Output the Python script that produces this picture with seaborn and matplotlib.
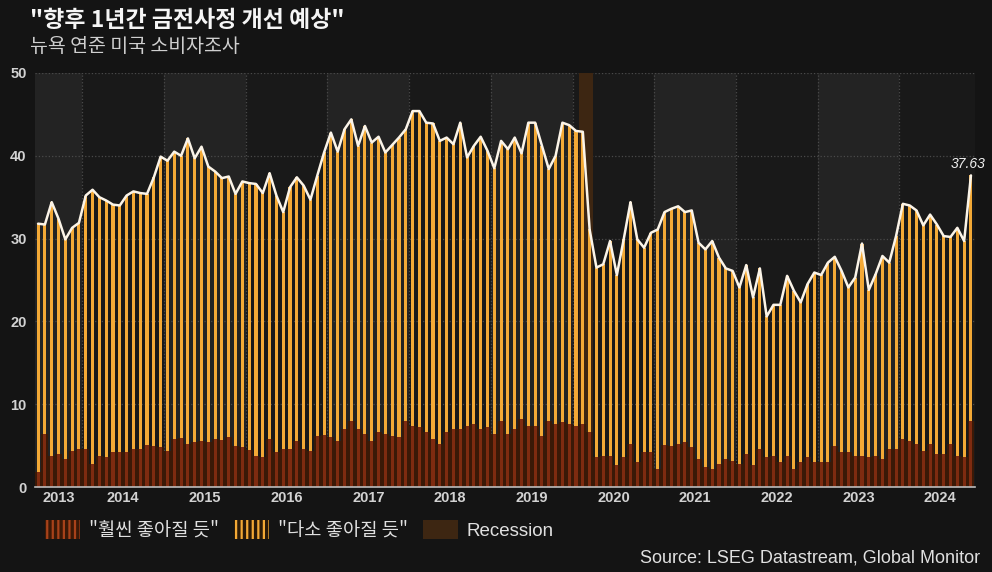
import numpy as np
import pandas as pd
import seaborn as sns
import matplotlib.pyplot as plt
from matplotlib import font_manager
from matplotlib.patches import Patch

# NY Fed SCE: share expecting to be better off in 12 months (monthly, from Jun 2013)
start_month = '2013-06'
much_better = [
    1.8, 6.4, 3.8, 4.0, 3.4, 4.4, 4.6, 4.6, 2.8, 3.8,
    3.6, 4.2, 4.2, 4.2, 4.6, 4.6, 5.1, 5.0, 4.8, 4.4,
    5.8, 5.9, 5.2, 5.4, 5.6, 5.4, 5.8, 5.7, 6.0, 5.0,
    4.8, 4.5, 3.8, 3.6, 5.8, 4.2, 4.6, 4.6, 5.6, 4.6,
    4.4, 6.2, 6.3, 6.0, 5.6, 7.0, 8.0, 7.0, 6.4, 5.6,
    6.6, 6.4, 6.2, 6.0, 8.0, 7.4, 7.3, 6.6, 5.8, 5.2,
    6.6, 7.0, 7.0, 7.4, 7.6, 7.0, 7.2, 6.4, 8.0, 6.4,
    7.0, 8.2, 7.4, 7.4, 6.2, 8.0, 7.6, 7.8, 7.6, 7.4,
    7.6, 6.6, 3.6, 3.8, 3.8, 2.6, 3.6, 5.2, 3.0, 4.2,
    4.2, 2.2, 5.1, 5.0, 5.2, 5.4, 4.8, 3.4, 2.4, 2.2,
    2.8, 3.4, 3.2, 2.8, 4.0, 2.6, 4.6, 3.6, 3.8, 3.0,
    3.7, 2.2, 3.0, 3.6, 3.0, 3.0, 3.0, 5.0, 4.2, 4.2,
    3.8, 3.8, 3.6, 3.8, 3.4, 4.6, 4.6, 5.8, 5.6, 5.2,
    4.4, 5.2, 4.0, 4.0, 5.2, 3.8, 3.6, 8.0,
]
total = [
    31.8, 31.7, 34.4, 32.4, 29.9, 31.3, 31.9, 35.2, 35.9, 35.0,
    34.6, 34.1, 34.0, 35.2, 35.7, 35.5, 35.4, 37.4, 39.9, 39.4,
    40.5, 40.0, 42.1, 39.7, 41.1, 38.7, 38.1, 37.3, 37.5, 35.4,
    36.9, 36.7, 36.6, 35.5, 37.9, 35.2, 33.2, 36.2, 37.4, 36.4,
    34.7, 37.6, 40.4, 42.8, 40.5, 43.2, 44.4, 41.2, 43.6, 41.6,
    42.3, 40.4, 41.3, 42.2, 43.2, 45.4, 45.4, 44.0, 43.9, 41.8,
    42.2, 41.4, 44.0, 39.8, 41.2, 42.3, 40.6, 38.5, 41.8, 40.8,
    42.2, 40.3, 44.0, 44.0, 41.2, 38.4, 40.0, 44.0, 43.7, 43.0,
    42.9, 31.1, 26.5, 26.9, 29.7, 25.6, 29.9, 34.4, 29.9, 28.9,
    30.7, 31.1, 33.2, 33.6, 33.9, 33.2, 33.4, 29.5, 28.7, 29.7,
    27.7, 26.4, 26.1, 24.1, 26.8, 22.9, 26.4, 20.6, 22.0, 22.0,
    25.5, 23.7, 22.3, 24.5, 25.9, 25.6, 27.1, 27.8, 26.1, 24.1,
    25.3, 29.4, 23.8, 25.7, 27.9, 27.1, 30.3, 34.2, 34.0, 33.4,
    31.6, 32.9, 31.7, 30.3, 30.2, 31.3, 29.7, 37.63,
]
years = list(range(2013, 2025))
recession_months = ['2020-02', '2020-03']
y_ticks = [0, 10, 20, 30, 40, 50]

title = '"향후 1년간 금전사정 개선 예상"'
subtitle = '뉴욕 연준 미국 소비자조사'
legend_labels = ['"훨씬 좋아질 듯"', '"다소 좋아질 듯"', 'Recession']
source = 'Source: LSEG Datastream, Global Monitor'

months = pd.period_range(start_month, periods=len(total), freq='M')
df = pd.DataFrame({'pos': np.arange(len(total)), 'much': much_better, 'total': total})


def month_pos(label):
    return (pd.Period(label, freq='M') - months[0]).n


sns.set_theme(style='dark')
installed = {f.name for f in font_manager.fontManager.ttflist}
narrow = 'Liberation Sans Narrow' if 'Liberation Sans Narrow' in installed else 'Liberation Sans'
plt.rcParams['font.family'] = ['Noto Sans CJK KR', 'DejaVu Sans']
plt.rcParams['hatch.linewidth'] = 1.6

fig, ax = plt.subplots(figsize=(9.92, 5.72), dpi=100)
fig.patch.set_facecolor('#141414')
ax.set_position([0.0353, 0.1486, 0.9476, 0.7238])
ax.set_facecolor('#191919')

x_min, x_max = -0.45, len(total) - 0.4
bounds = [month_pos(f'{y}-01') - 0.5 for y in years]
edges = [x_min] + bounds[1:] + [x_max]

# alternate year bands
for i, y in enumerate(years):
    if y % 2 == 1:
        ax.axvspan(edges[i], edges[i + 1], color='#232323', lw=0, zorder=0.1)

rec = [month_pos(m) for m in recession_months]
ax.axvspan(rec[0] - 0.5, rec[-1] + 0.5, color='#3d2612', lw=0, zorder=0.6)

bar_kw = dict(native_scale=True, saturation=1, errorbar=None, linewidth=0, ax=ax)
sns.barplot(data=df, x='pos', y='total', width=0.45, color='#f3a936', zorder=2, **bar_kw)
sns.barplot(data=df, x='pos', y='much', width=1.0, color='#3a1907', zorder=3, **bar_kw)
sns.barplot(data=df, x='pos', y='much', width=0.45, color='#7e2b10', zorder=4, **bar_kw)
sns.lineplot(data=df, x='pos', y='total', color='#fbf4e8', lw=1.8, ax=ax, zorder=5)

ax.annotate(f'{total[-1]:.2f}', xy=(df['pos'].iloc[-1], total[-1]), xytext=(-2, 3),
            textcoords='offset points', ha='center', va='bottom', style='italic',
            color='#f0f0f0', fontsize=10, family=narrow, annotation_clip=False, zorder=6)

ax.set_xlim(x_min, x_max)
ax.set_ylim(0, 50)
ax.set_xlabel('')
ax.set_ylabel('')
ax.set_axisbelow(True)

ax.set_yticks(y_ticks)
label_pos = [(edges[i] + edges[i + 1]) / 2 if i == 0 else bounds[i] + 6 for i in range(len(years))]
ax.set_xticks(label_pos, labels=[str(y) for y in years])
ax.set_xticks(bounds[1:], minor=True)
ax.yaxis.grid(True, color='#4a4a4a', ls=':', lw=0.9)
ax.xaxis.grid(True, which='minor', color='#4a4a4a', ls=':', lw=0.9)
ax.xaxis.grid(False, which='major')
ax.tick_params(axis='both', which='both', length=0, colors='#d2d2d2', labelsize=10.5)
ax.tick_params(axis='x', pad=3)
ax.tick_params(axis='y', pad=6)
for lab in ax.get_xticklabels() + ax.get_yticklabels():
    lab.set_fontweight('bold')
    lab.set_family(narrow)

for side in ['top', 'right', 'left']:
    ax.spines[side].set_visible(False)
ax.spines['bottom'].set_color('#bdbdbd')
ax.spines['bottom'].set_linewidth(1.2)
ax.spines['bottom'].set_zorder(6)

fig.text(0.030, 0.964, title, fontsize=16.5, fontweight='bold', color='#f5f5f5', va='center')
fig.text(0.030, 0.919, subtitle, fontsize=14, color='#cfcfcf', va='center')

handles = [
    Patch(facecolor='#3a1907', edgecolor='#a8421a', hatch='|||', lw=0),
    Patch(facecolor='#2a1a08', edgecolor='#f3a936', hatch='|||', lw=0),
    Patch(facecolor='#3d2612', lw=0),
]
leg = fig.legend(handles, legend_labels, loc='center left', bbox_to_anchor=(0.028, 0.073),
                 ncol=3, frameon=False, handlelength=1.9, handleheight=1.2,
                 columnspacing=0.8, handletextpad=0.45, fontsize=13.5)
for t in leg.get_texts():
    t.set_color('#e0e0e0')
leg.get_texts()[2].set_family(narrow)

fig.text(0.988, 0.0245, source, ha='right', va='center', fontsize=13,
         color='#e0e0e0', family=narrow)

fig.savefig('out.png', dpi=100, facecolor=fig.get_facecolor())
